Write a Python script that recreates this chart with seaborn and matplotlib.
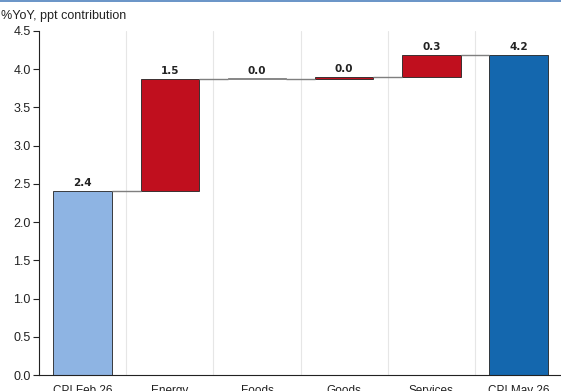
import matplotlib
matplotlib.use("Agg")
import matplotlib.pyplot as plt
import seaborn as sns
import numpy as np

categories = ["CPI Feb 26", "Energy", "Foods", "Goods", "Services", "CPI May 26"]
start_value = 2.41
contributions = [1.46, 0.0, 0.03, 0.29]
end_value = 4.19
bar_colors = ["#8EB4E3", "#C00F1E", "#7F7F7F", "#C00F1E", "#C00F1E", "#1467AE"]
y_ticks = [0.0, 0.5, 1.0, 1.5, 2.0, 2.5, 3.0, 3.5, 4.0, 4.5]

# cumulative levels
levels = [start_value]
for c in contributions:
    levels.append(levels[-1] + c)
bottoms = [0.0] + levels[:-1][:len(contributions)] + [0.0]
heights = [start_value] + contributions + [end_value]
labels = [start_value] + contributions + [end_value]

sns.set_style("white")
plt.rcParams["font.family"] = ["Liberation Sans", "DejaVu Sans"]

fig = plt.figure(figsize=(5.61, 3.91), dpi=100)
ax = fig.add_axes([39 / 561, 16 / 391, 1 - 39 / 561 + 0.002, (375 - 31) / 391])

sns.barplot(x=categories, y=heights, ax=ax, width=0.67, color="#999999",
            edgecolor="#222222", linewidth=0.6, saturation=1)
for p, b, col, h in zip(ax.patches, bottoms, bar_colors, heights):
    p.set_y(b)
    p.set_facecolor(col)
    if abs(h) < 0.015:
        p.set_height(0.015)
        p.set_edgecolor(col)

# connectors
conn_levels = [start_value] + levels[1:]
for i, lv in enumerate(conn_levels):
    ax.plot([i + 0.335, i + 1 - 0.335], [lv, lv], color="#7F7F7F", lw=1.0,
            solid_capstyle="butt", zorder=1)

# value labels
for i, (b, h, v) in enumerate(zip(bottoms, heights, labels)):
    top = max(b, b + h)
    ax.text(i, top + 0.04, f"{v:.1f}", ha="center", va="bottom",
            fontsize=7.5, fontweight="bold", color="#222222",
            family=["DejaVu Sans"])

ax.set_xlim(-0.5, 5.5)
ax.set_ylim(0, 4.5)
ax.set_yticks(y_ticks)
ax.set_yticklabels([f"{t:.1f}" for t in y_ticks], fontsize=9, color="#222222")
ax.set_xticks(np.arange(0.5, 5.5, 1.0), minor=True)
ax.tick_params(axis="x", which="major", length=0, pad=7, labelsize=8.5, labelcolor="#222222")
ax.tick_params(axis="x", which="minor", length=4, color="#BBBBBB", width=0.8)
ax.tick_params(axis="y", which="major", length=4, color="#222222", width=0.8, left=True, pad=2)
ax.grid(axis="x", which="minor", color="#E6E6E6", lw=0.8)
ax.set_axisbelow(True)
for s in ["top", "right"]:
    ax.spines[s].set_visible(False)
ax.spines["left"].set_color("#222222")
ax.spines["left"].set_linewidth(0.8)
ax.spines["bottom"].set_color("#222222")
ax.spines["bottom"].set_linewidth(0.8)
ax.set_xlabel("")
ax.set_ylabel("")

fig.text(1 / 561, 1 - 16 / 391, "%YoY, ppt contribution", fontsize=9,
         color="#222222", va="center", ha="left")
fig.add_artist(plt.Line2D([0, 1], [1 - 1 / 391, 1 - 1 / 391], color="#4F81BD", lw=1.2,
                          transform=fig.transFigure))

fig.savefig("out.png", dpi=100)
